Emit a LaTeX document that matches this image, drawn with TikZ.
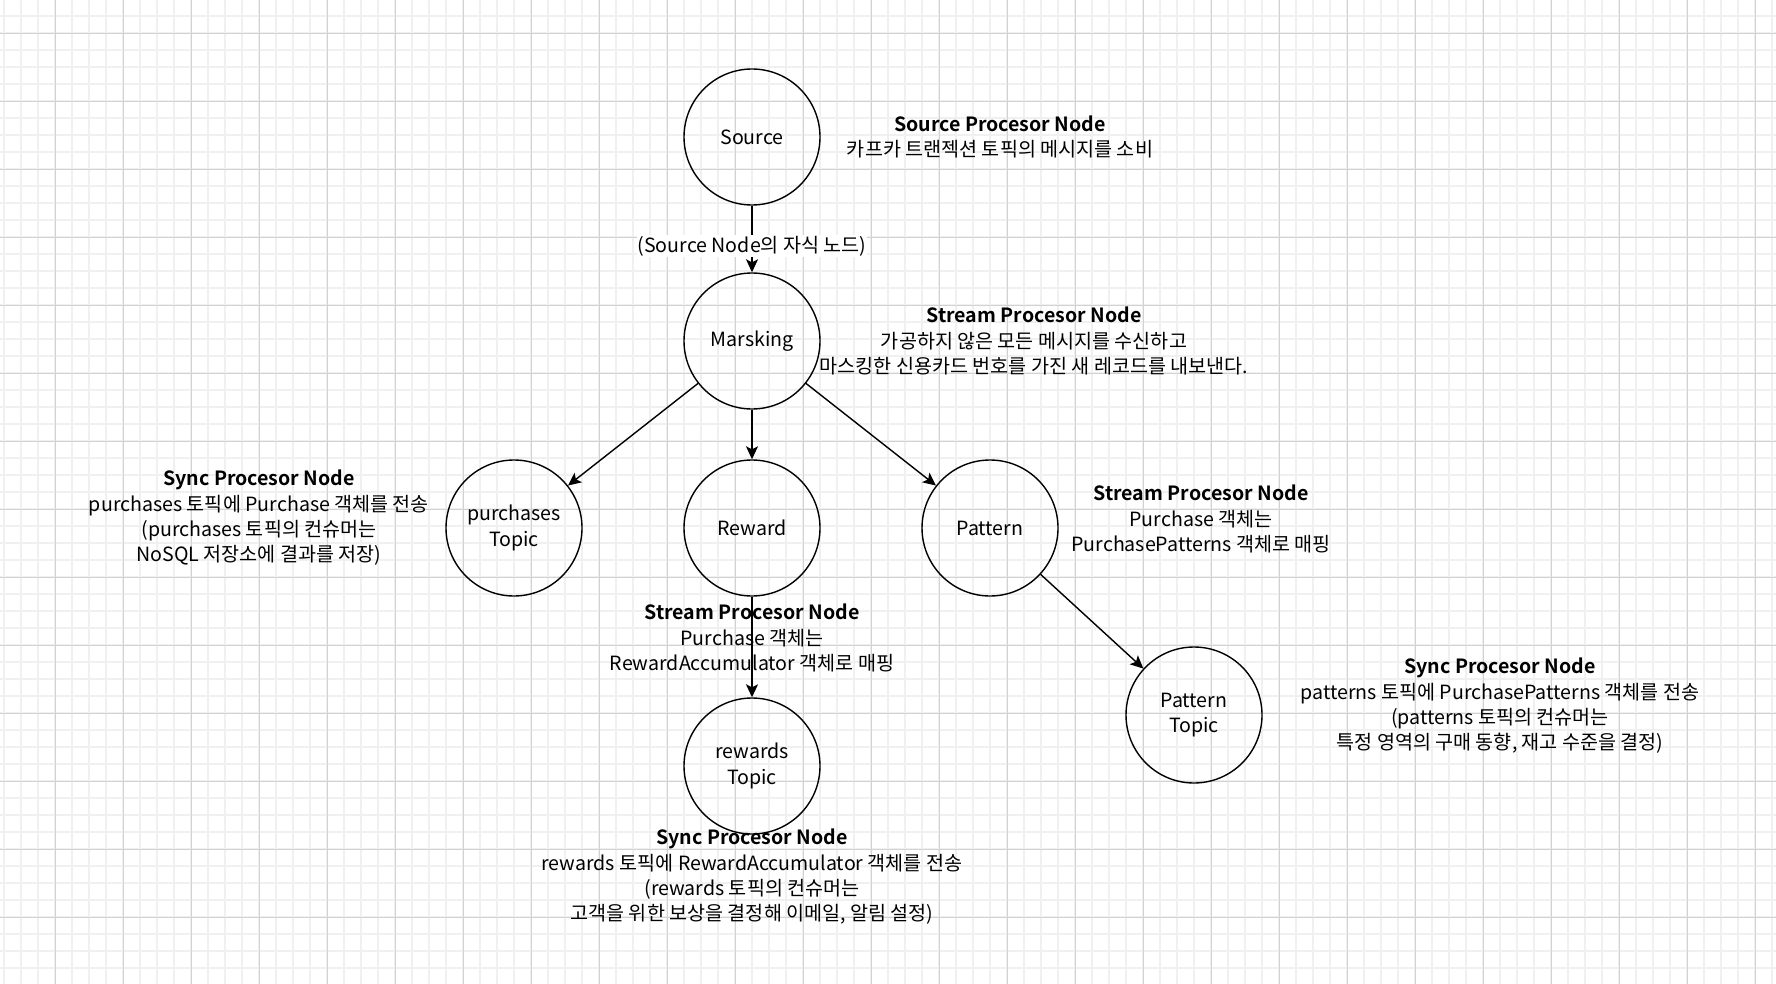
\documentclass[tikz,border=0pt]{standalone}
\usepackage{fontspec}
\setmainfont{Noto Sans CJK KR}[BoldFont={Noto Sans CJK KR Bold}]
\usetikzlibrary{arrows.meta}
\definecolor{minorgrid}{HTML}{F0F0F0}
\definecolor{majorgrid}{HTML}{D2D2D2}
\tikzset{
	font=\fontsize{19.6}{25.3}\selectfont,
	>={Stealth[length=13pt,width=12pt,inset=3pt]},
	proc/.style={circle, draw, line width=1.4pt, minimum size=136pt, inner sep=0pt, align=center},
	note/.style={align=center}
}

\begin{document}
\begin{tikzpicture}[x=1pt,y=-1pt]  % one unit = one pixel, y downwards

% paper and grid
\useasboundingbox (0,0) rectangle (1776,984);
\fill[white] (0,0) rectangle (1776,984);
\foreach \x in {4,21,...,1776} \draw[minorgrid, line width=1.5pt] (\x,0) -- (\x,984);
\foreach \y in {16,33,...,984} \draw[minorgrid, line width=1.5pt] (0,\y) -- (1776,\y);
\foreach \x in {55,123,...,1776} \draw[majorgrid, line width=0.9pt] (\x,0) -- (\x,984);
\foreach \y in {33,101,...,984} \draw[majorgrid, line width=0.9pt] (0,\y) -- (1776,\y);

% processor nodes
\node[proc] (source) at (752,137) {Source};
\node[proc] (marsking) at (752,341) {Marsking};
\node[proc] (purchases) at (514,528) {purchases\\Topic};
\node[proc] (reward) at (752,528) {Reward};
\node[proc] (pattern) at (990,528) {Pattern};
\node[proc] (rewards) at (752,766) {rewards\\Topic};
\node[proc] (patterntopic) at (1194,715) {Pattern\\Topic};

% connections
\draw[->, line width=1.4pt] (source) -- (marsking)
node[midway, fill=white, inner sep=1pt, yshift=-7pt] {(Source Node의 자식 노드)};
\draw[->, line width=1.4pt] (marsking) -- (purchases);
\draw[->, line width=1.4pt] (marsking) -- (reward);
\draw[->, line width=1.4pt] (marsking) -- (pattern);
\draw[->, line width=1.4pt] (reward) -- (rewards);
\draw[->, line width=1.4pt] (pattern) -- (patterntopic);

% descriptions
\node[note] (sourcenote) at (1000,137) {\textbf{Source Procesor Node}\\카프카 트랜젝션 토픽의 메시지를 소비};
\node[note] (marskingnote) at (1034,341) {\textbf{Stream Procesor Node}\\가공하지 않은 모든 메시지를 수신하고\\마스킹한 신용카드 번호를 가진 새 레코드를 내보낸다.};
\node[note] (purchasesnote) at (259,518) {\textbf{Sync Procesor Node}\\purchases 토픽에 Purchase 객체를 전송\\(purchases 토픽의 컨슈머는\\NoSQL 저장소에 결과를 저장)};
\node[note] (patternnote) at (1201,519) {\textbf{Stream Procesor Node}\\Purchase 객체는\\PurchasePatterns 객체로 매핑};
\node[note] (rewardnote) at (752,638) {\textbf{Stream Procesor Node}\\Purchase 객체는\\RewardAccumulator 객체로 매핑};
\node[note] (patterntopicnote) at (1500,706) {\textbf{Sync Procesor Node}\\patterns 토픽에 PurchasePatterns 객체를 전송\\(patterns 토픽의 컨슈머는\\특정 영역의 구매 동향, 재고 수준을 결정)};
\node[note] (rewardsnote) at (752,877) {\textbf{Sync Procesor Node}\\rewards 토픽에 RewardAccumulator 객체를 전송\\(rewards 토픽의 컨슈머는\\고객을 위한 보상을 결정해 이메일, 알림 설정)};

\end{tikzpicture}
\end{document}
